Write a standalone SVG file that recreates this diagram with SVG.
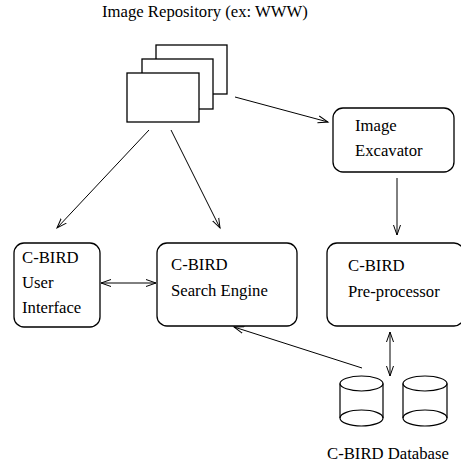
<svg xmlns="http://www.w3.org/2000/svg" width="461" height="465" viewBox="0 0 461 465">
<defs>
<style>
text{font-family:"Liberation Serif","Times New Roman",serif;font-size:16.7px;fill:#000}
.box{fill:#fff;stroke:#000;stroke-width:1.3}
.page{fill:#fff;stroke:#000;stroke-width:1.3}
.cyl{fill:none;stroke:#000;stroke-width:1.2}
.conn{fill:none;stroke:#000;stroke-width:1;marker-end:url(#arr)}
.bi{marker-start:url(#arr)}
</style>
<marker id="arr" markerUnits="userSpaceOnUse" markerWidth="12" markerHeight="10" refX="10" refY="4" orient="auto-start-reverse" viewBox="0 0 12 8">
<path d="M0,0.5 L10,4 L0,7.5" fill="none" stroke="#000" stroke-width="1"/>
</marker>
</defs>
<rect width="461" height="465" fill="#fff"/>
<g id="repository">
<text x="102" y="17">Image Repository (ex: WWW)</text>
<rect class="page" x="156" y="45" width="71" height="49"/>
<rect class="page" x="142" y="59" width="71" height="50"/>
<rect class="page" x="127" y="73" width="72" height="49"/>
</g>
<g id="excavator">
<rect class="box" x="333" y="108" width="121" height="64" rx="10"/>
<text x="355" y="131">Image</text>
<text x="355" y="156">Excavator</text>
</g>
<g id="user-interface">
<rect class="box" x="14" y="243" width="86" height="84" rx="10"/>
<text x="22" y="263">C-BIRD</text>
<text x="22" y="288">User</text>
<text x="22" y="313">Interface</text>
</g>
<g id="search-engine">
<rect class="box" x="157" y="243" width="140" height="83" rx="10"/>
<text x="171" y="270">C-BIRD</text>
<text x="171" y="296">Search Engine</text>
</g>
<g id="pre-processor">
<rect class="box" x="327" y="243" width="137" height="83" rx="10"/>
<text x="348" y="271">C-BIRD</text>
<text x="348" y="297">Pre-processor</text>
</g>
<g id="database">
<path class="cyl" d="M340,383.5 V418 A21.5,8 0 0 0 383,418 V383.5"/>
<ellipse class="cyl" cx="361.5" cy="383.5" rx="21.5" ry="7.5"/>
<path class="cyl" d="M340,418 A21.5,8 0 0 1 383,418"/>
<path class="cyl" d="M403,383.5 V418 A22,8 0 0 0 447,418 V383.5"/>
<ellipse class="cyl" cx="425" cy="383.5" rx="22" ry="7.5"/>
<path class="cyl" d="M403,418 A22,8 0 0 1 447,418"/>
<text x="327" y="459">C-BIRD Database</text>
</g>
<g id="connectors">
<line class="conn" x1="149" y1="130" x2="57" y2="228"/>
<line class="conn" x1="171" y1="130" x2="220" y2="228"/>
<line class="conn" x1="235" y1="97" x2="328" y2="122"/>
<line class="conn" x1="397" y1="178" x2="397" y2="235"/>
<line class="conn bi" x1="101" y1="283" x2="156" y2="283"/>
<line class="conn bi" x1="390" y1="332" x2="390" y2="376"/>
<line class="conn" x1="362" y1="368" x2="234" y2="327"/>
</g>
</svg>
